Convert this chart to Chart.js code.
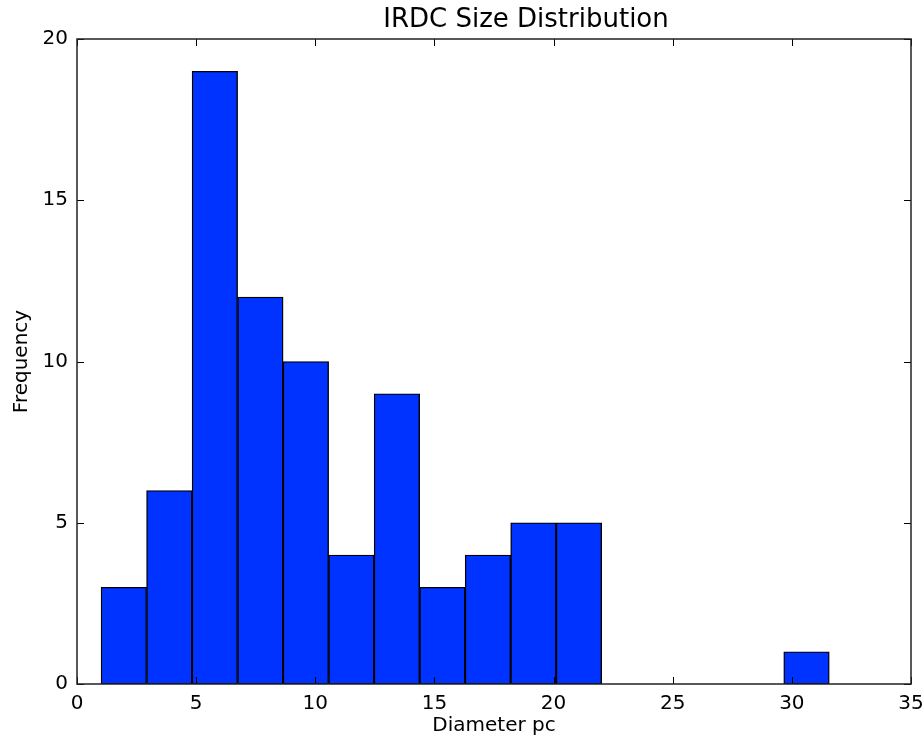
<!DOCTYPE html>
<html>
<head>
<meta charset="utf-8">
<title>IRDC Size Distribution</title>
<script src="https://cdn.jsdelivr.net/npm/chart.js@4/dist/chart.umd.min.js"></script>
<style>
  html, body { margin: 0; padding: 0; background: #ffffff; }
  #wrap { width: 924px; height: 738px; }
</style>
</head>
<body>
<div id="wrap"><canvas id="hist"></canvas></div>
<script>
// Histogram bin edges (diameter, pc) and the count in each bin
const binEdges = [1.01, 2.92, 4.83, 6.74, 8.65, 10.56, 12.47, 14.38, 16.29,
                  18.20, 20.11, 22.02, 23.93, 25.84, 27.75, 29.66, 31.57];
const counts = [3, 6, 19, 12, 10, 4, 9, 3, 4, 5, 5, 0, 0, 0, 0, 1];

const xTicks = [0, 5, 10, 15, 20, 25, 30, 35];
const yTicks = [0, 5, 10, 15, 20];

const chartTitle = 'IRDC Size Distribution';
const xLabel = 'Diameter pc';
const yLabel = 'Frequency';

const FONT = "'DejaVu Sans', 'Bitstream Vera Sans', sans-serif";

// One bar per bin, centred between its edges
const points = counts.map((c, i) => ({ x: (binEdges[i] + binEdges[i + 1]) / 2, y: c }));

// Box frame, inward ticks on all four sides, and the title
const framePlugin = {
  id: 'frame',
  afterDraw(chart) {
    const { ctx, chartArea: a, scales } = chart;
    ctx.save();
    ctx.strokeStyle = '#000000';
    ctx.lineWidth = 1;
    const tl = 7;
    ctx.beginPath();
    xTicks.forEach(v => {
      const px = Math.round(scales.x.getPixelForValue(v)) + 0.5;
      ctx.moveTo(px, a.bottom); ctx.lineTo(px, a.bottom - tl);
      ctx.moveTo(px, a.top); ctx.lineTo(px, a.top + tl);
    });
    yTicks.forEach(v => {
      const py = Math.round(scales.y.getPixelForValue(v)) + 0.5;
      ctx.moveTo(a.left, py); ctx.lineTo(a.left + tl, py);
      ctx.moveTo(a.right, py); ctx.lineTo(a.right - tl, py);
    });
    ctx.stroke();
    ctx.strokeStyle = '#222222';
    ctx.lineWidth = 1.5;
    ctx.strokeRect(a.left, a.top, a.right - a.left, a.bottom - a.top);

    ctx.fillStyle = '#000000';
    ctx.font = '26px ' + FONT;
    ctx.textAlign = 'center';
    ctx.textBaseline = 'middle';
    ctx.fillText(chartTitle, 526, 20);
    ctx.restore();
  }
};

new Chart(document.getElementById('hist'), {
  type: 'bar',
  data: {
    datasets: [{
      data: points,
      backgroundColor: '#0033ff',
      borderColor: '#000000',
      borderWidth: 1.4,
      borderSkipped: false,
      barPercentage: 1.0,
      categoryPercentage: 1.0
    }]
  },
  options: {
    responsive: true,
    maintainAspectRatio: false,
    animation: false,
    devicePixelRatio: 1,
    layout: { padding: { left: 0, right: 13, top: 39, bottom: 0 } },
    plugins: {
      legend: { display: false },
      title: { display: false },
      tooltip: { enabled: false }
    },
    scales: {
      x: {
        type: 'linear',
        min: 0,
        max: 35,
        offset: false,
        afterBuildTicks(scale) { scale.ticks = xTicks.map(v => ({ value: v })); },
        afterFit(scale) {
          scale.height = 54;
          scale.paddingLeft = 0;
          scale.paddingRight = 0;
        },
        grid: { display: false, drawTicks: false },
        border: { display: false },
        ticks: {
          padding: 8,
          color: '#000000',
          font: { family: FONT, size: 20 },
          maxRotation: 0
        },
        title: {
          display: true,
          text: xLabel,
          color: '#000000',
          font: { family: FONT, size: 20 },
          padding: { top: 0, bottom: 0 }
        }
      },
      y: {
        min: 0,
        max: 20,
        afterBuildTicks(scale) { scale.ticks = yTicks.map(v => ({ value: v })); },
        afterFit(scale) {
          scale.width = 77;
          scale.paddingTop = 0;
          scale.paddingBottom = 0;
        },
        grid: { display: false, drawTicks: false },
        border: { display: false },
        ticks: {
          padding: 9,
          color: '#000000',
          font: { family: FONT, size: 20 }
        },
        title: {
          display: true,
          text: yLabel,
          color: '#000000',
          font: { family: FONT, size: 20 },
          padding: { top: 10, bottom: 0 }
        }
      }
    }
  },
  plugins: [framePlugin]
});
</script>
</body>
</html>
